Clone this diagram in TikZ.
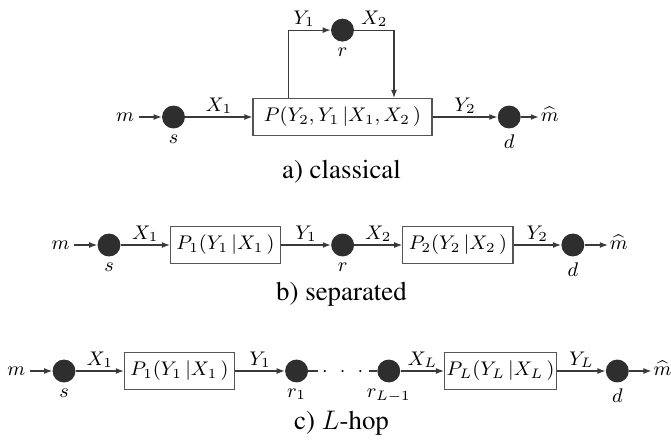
\RequirePackage{fix-cm}
\documentclass[tikz,border=0pt]{standalone}
\usepackage[T1]{fontenc}
\usepackage{times}
\usepackage{amsmath}
\usetikzlibrary{arrows.meta,positioning,calc}
\definecolor{dotfill}{HTML}{2E2E2E}
\definecolor{wire}{HTML}{3A3A3A}
\definecolor{frame}{HTML}{555555}

\begin{document}
\begin{tikzpicture}[
  x=0.476pt, y=-0.476pt,
  font=\fontsize{9.4}{11}\selectfont,
  term/.style={circle, fill=dotfill, minimum size=10.9pt, inner sep=0pt},
  chan/.style={draw=frame, line width=0.6pt, minimum height=17.6pt,
               minimum width=52.4pt, inner xsep=1pt, inner ysep=2pt},
  io/.style={inner sep=2pt, text height=4pt, text depth=0pt},
  est/.style={io, inner sep=0.8pt},
  ar/.style={-{Latex[length=3.8pt,width=2.8pt]}, draw=wire, line width=0.5pt},
  ln/.style={draw=wire, line width=0.5pt},
  elab/.style={above, inner sep=1.3pt},
  tlab/.style={inner sep=1pt},
  captext/.style={font=\fontsize{12.8}{15}\selectfont}
]
\useasboundingbox (0,0) rectangle (671,445);

% a) classical
\node[term] (sa) at (173.5,117) {};
\node[io, left=11pt of sa] (ma) {$m$};
\node[chan, minimum width=85.2pt, right=31.9pt of sa] (pa) {$P(Y_2,Y_1\,|X_1,X_2\,)$};
\node[term, right=30.8pt of pa] (da) {};
\node[est, right=8.4pt of da] (mha) {$\widehat{m}$};
\node[term, above=26.6pt of pa] (ra) {};
\node[tlab, below=1.8pt of sa] (sa-l) {$s$};
\node[tlab, below=1.8pt of ra] (ra-l) {$r$};
\node[tlab, below=1.8pt of da] (da-l) {$d$};
\draw[ar] (ma) -- (sa);
\draw[ar] (sa) -- node[elab] (xa1) {$X_1$} (pa);
\draw[ar] ([xshift=-25.5pt]pa.north) |- node[elab, pos=0.68] (ya1) {$Y_1$} (ra);
\draw[ar] (ra) -| node[elab, pos=0.25] (xa2) {$X_2$} ([xshift=24.5pt]pa.north);
\draw[ar] (pa) -- node[elab] (ya2) {$Y_2$} (da);
\draw[ar] (da) -- (mha);
\node[captext] (capa) at (341.5,172) {a) classical};

% b) separated
\node[term] (sb) at (109,245) {};
\node[io, left=11pt of sb] (mb) {$m$};
\node[chan, right=23.3pt of sb] (pb1) {$P_1(Y_1\,|X_1\,)$};
\node[term, right=23.6pt of pb1] (rb) {};
\node[chan, right=22.7pt of rb] (pb2) {$P_2(Y_2\,|X_2\,)$};
\node[term, right=22.6pt of pb2] (db) {};
\node[est, right=11pt of db] (mhb) {$\widehat{m}$};
\node[tlab, below=1.8pt of sb] (sb-l) {$s$};
\node[tlab, below=1.8pt of rb] (rb-l) {$r$};
\node[tlab, below=1.8pt of db] (db-l) {$d$};
\draw[ar] (mb) -- (sb);
\draw[ar] (sb) -- node[elab] (xb1) {$X_1$} (pb1);
\draw[ar] (pb1) -- node[elab] (yb1) {$Y_1$} (rb);
\draw[ar] (rb) -- node[elab] (xb2) {$X_2$} (pb2);
\draw[ar] (pb2) -- node[elab] (yb2) {$Y_2$} (db);
\draw[ar] (db) -- (mhb);
\node[captext] (capb) at (341.5,294) {b) separated};

% c) L-hop
\node[term] (sc) at (64,371) {};
\node[io, left=10.6pt of sc] (mc) {$m$};
\node[chan, right=22.8pt of sc] (pc1) {$P_1(Y_1\,|X_1\,)$};
\node[term, right=23.6pt of pc1] (rc1) {};
\node[term, right=32.6pt of rc1] (rcL) {};
\node[chan, right=20.6pt of rcL] (pcL) {$P_L(Y_L\,|X_L\,)$};
\node[term, right=22.9pt of pcL] (dc) {};
\node[est, right=10.6pt of dc] (mhc) {$\widehat{m}$};
\node[tlab, below=1.8pt of sc] (sc-l) {$s$};
\node[tlab, below=1.8pt of rc1] (rc1-l) {$r_1$};
\node[tlab, below=1.8pt of rcL] (rcL-l) {$r_{L-1}$};
\node[tlab, below=1.8pt of dc] (dc-l) {$d$};
\coordinate[right=4.5pt of rc1] (st1);
\coordinate[left=4pt of rcL] (st2);
\node[anchor=base, yshift=-2.4pt, inner sep=0pt] (dots) at ($(rc1)!0.5!(rcL)$)
  {$\cdot\hspace{3.6pt}\cdot\hspace{3.6pt}\cdot$};
\draw[ar] (mc) -- (sc);
\draw[ar] (sc) -- node[elab] (xc1) {$X_1$} (pc1);
\draw[ar] (pc1) -- node[elab] (yc1) {$Y_1$} (rc1);
\draw[ln] (rc1) -- (st1);
\draw[ln] (st2) -- (rcL);
\draw[ar] (rcL) -- node[elab] (xcL) {$X_L$} (pcL);
\draw[ar] (pcL) -- node[elab] (ycL) {$Y_L$} (dc);
\draw[ar] (dc) -- (mhc);
\node[captext] (capc) at (341.5,423) {c) $L$-hop};
\end{tikzpicture}
\end{document}
